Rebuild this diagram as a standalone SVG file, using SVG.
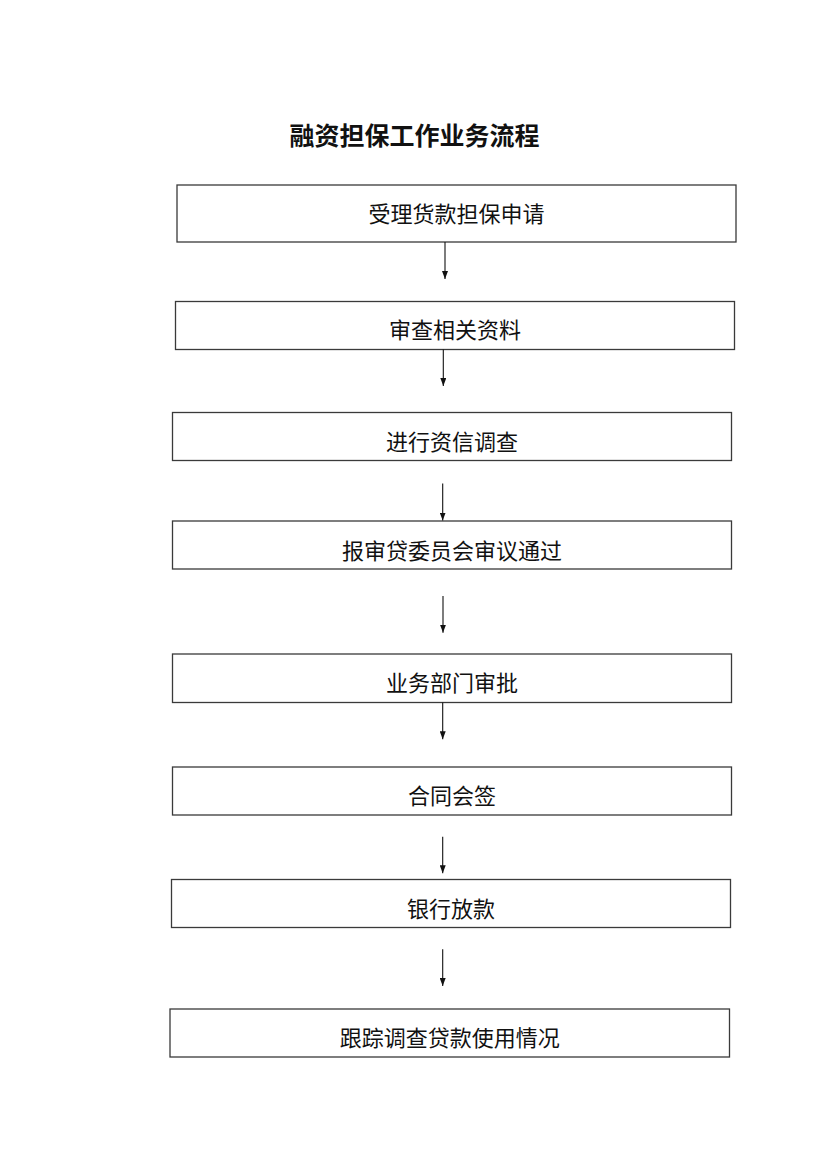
<svg xmlns="http://www.w3.org/2000/svg" width="830" height="1174" viewBox="0 0 830 1174">
  <style>
    .box { fill: #ffffff; stroke: #3a3a3a; stroke-width: 1.3; }
    .label { font-family: "Noto Sans CJK SC", "Noto Sans", sans-serif; font-size: 22px; fill: #111111; text-anchor: middle; }
    .title { font-family: "Noto Sans CJK SC", "Noto Sans", sans-serif; font-size: 25px; font-weight: bold; fill: #111111; text-anchor: middle; }
    .conn { stroke: #111111; stroke-width: 1.1; fill: none; marker-end: url(#arrow); }
  </style>
  <defs>
    <marker id="arrow" viewBox="0 0 8 6" refX="8" refY="3" markerWidth="8" markerHeight="6" markerUnits="userSpaceOnUse" orient="auto">
      <path d="M0,0 L8,3 L0,6 z" fill="#111111"/>
    </marker>
  </defs>
  <rect width="830" height="1174" fill="#ffffff"/>
  <text class="title" x="414.5" y="144.5">融资担保工作业务流程</text>

  <g id="node1">
    <rect class="box" x="177" y="185" width="559" height="57"/>
    <text class="label" x="456.5" y="222.4">受理货款担保申请</text>
  </g>
  <g id="node2">
    <rect class="box" x="175.5" y="301.5" width="559" height="48"/>
    <text class="label" x="455" y="338.4">审查相关资料</text>
  </g>
  <g id="node3">
    <rect class="box" x="172.5" y="412.5" width="559" height="48"/>
    <text class="label" x="452" y="450">进行资信调查</text>
  </g>
  <g id="node4">
    <rect class="box" x="172.5" y="521" width="559" height="48"/>
    <text class="label" x="452" y="559">报审贷委员会审议通过</text>
  </g>
  <g id="node5">
    <rect class="box" x="172.5" y="654" width="559" height="48.5"/>
    <text class="label" x="452" y="691.4">业务部门审批</text>
  </g>
  <g id="node6">
    <rect class="box" x="172.5" y="767" width="559" height="48"/>
    <text class="label" x="452" y="804.4">合同会签</text>
  </g>
  <g id="node7">
    <rect class="box" x="171.5" y="879.5" width="559" height="48"/>
    <text class="label" x="451" y="917.4">银行放款</text>
  </g>
  <g id="node8">
    <rect class="box" x="170" y="1009" width="559.5" height="48"/>
    <text class="label" x="449.8" y="1046.4">跟踪调查贷款使用情况</text>
  </g>

  <g id="connectors">
    <line class="conn" x1="445" y1="242" x2="445" y2="279"/>
    <line class="conn" x1="443.3" y1="349.5" x2="443.3" y2="386"/>
    <line class="conn" x1="442.7" y1="483.5" x2="442.7" y2="520.5"/>
    <line class="conn" x1="443" y1="596" x2="443" y2="632.7"/>
    <line class="conn" x1="442.7" y1="702.5" x2="442.7" y2="739.3"/>
    <line class="conn" x1="442.7" y1="836.7" x2="442.7" y2="873.3"/>
    <line class="conn" x1="442.7" y1="949.3" x2="442.7" y2="986"/>
  </g>
</svg>
